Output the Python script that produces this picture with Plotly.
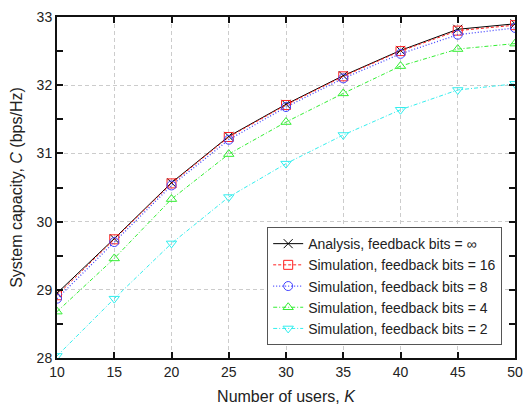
import plotly.graph_objects as go

K = [10, 15, 20, 25, 30, 35, 40, 45, 50]
analysis_inf = [28.95, 29.75, 30.57, 31.25, 31.72, 32.14, 32.51, 32.82, 32.90]
sim_16 = [28.92, 29.74, 30.56, 31.24, 31.71, 32.13, 32.50, 32.80, 32.88]
sim_8 = [28.87, 29.70, 30.53, 31.20, 31.68, 32.10, 32.46, 32.74, 32.84]
sim_4 = [28.68, 29.46, 30.33, 30.99, 31.46, 31.88, 32.28, 32.53, 32.61]
sim_2 = [28.03, 28.87, 29.68, 30.36, 30.85, 31.27, 31.64, 31.93, 32.02]

names = ["Analysis, feedback bits = \u221e",
         "Simulation, feedback bits = 16",
         "Simulation, feedback bits = 8",
         "Simulation, feedback bits = 4",
         "Simulation, feedback bits = 2"]

series = [analysis_inf, sim_16, sim_8, sim_4, sim_2]
colors = ["#000000", "#ff2020", "#4444ff", "#33ee33", "#33eeee"]
dashes = ["solid", "3px,2px", "1px,2px", "4px,2px,1px,2px", "4px,2px,1px,2px"]
symbols = ["x-thin-open", "square-open", "circle-open", "triangle-up-open", "triangle-down-open"]
widths = [1, 1, 1.3, 1, 1]

fig = go.Figure()
for y, n, c, d, s, w in zip(series, names, colors, dashes, symbols, widths):
    fig.add_trace(go.Scatter(
        x=K, y=y, name=n, mode="lines+markers",
        line=dict(color=c, dash=d, width=w),
        marker=dict(symbol=s, size=9, color=c, line=dict(color=c, width=1)),
    ))

axis_common = dict(
    showline=True, linecolor="#111111", linewidth=2, mirror="ticks",
    ticks="inside", ticklen=6, tickcolor="#111111", tickwidth=1.5,
    showgrid=True, gridcolor="#cccccc", griddash="4px,3px", gridwidth=1,
    zeroline=False, tickfont=dict(size=14, color="#222222", family="Liberation Sans, Arial"),
)

fig.update_layout(
    width=532, height=412,
    margin=dict(l=57, r=9, t=14, b=52),
    plot_bgcolor="white", paper_bgcolor="white",
    font=dict(family="Liberation Sans, Arial", color="#222222"),
    xaxis=dict(range=[10, 50], dtick=5, tick0=10,
               title=dict(text="Number of users, <i>K</i>", font=dict(size=16), standoff=12),
               **axis_common),
    yaxis=dict(range=[28, 33], dtick=1,
               minor=dict(dtick=0.5, ticks="inside", ticklen=6, tickcolor="#111111", showgrid=False),
               title=dict(text="System capacity, <i>C</i> (bps/Hz)", font=dict(size=16), standoff=10),
               **axis_common),
    legend=dict(x=0.972, y=0.038, xanchor="right", yanchor="bottom",
                bgcolor="white", bordercolor="#555555", borderwidth=1,
                font=dict(size=14, color="#222222"), tracegroupgap=0,
                itemwidth=30),
    showlegend=True,
)

fig.write_html("out.html")
